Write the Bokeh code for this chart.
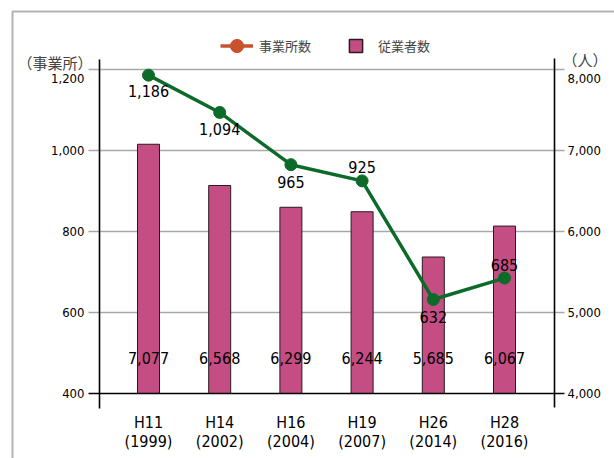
import numpy as np
from bokeh.plotting import figure
from bokeh.models import (Range1d, Legend, LegendItem, ColumnDataSource, Label, BoxAnnotation)
from bokeh.core.properties import value
from bokeh.embed import file_html
from bokeh.resources import INLINE

# ---- data ----
categories = ["H11\n(1999)", "H14\n(2002)", "H16\n(2004)", "H19\n(2007)", "H26\n(2014)", "H28\n(2016)"]
establishments = [1186, 1094, 965, 925, 632, 685]      # 事業所数 (left axis)
employees = [7077, 6568, 6299, 6244, 5685, 6067]        # 従業者数 (right axis)
left_ticks = [400, 600, 800, 1000, 1200]
right_ticks = [4000, 5000, 6000, 7000, 8000]
left_tick_labels = ["400", "600", "800", "1,000", "1,200"]
right_tick_labels = ["4,000", "5,000", "6,000", "7,000", "8,000"]

# ---- layout (px) ----
est_label_dy = [16, 17, 17, -14, 17, -13]
tick_label_dy = [0, 0, 0, 0, 9]

NUM_FONT = "DejaVu Sans Condensed, Roboto Condensed, Liberation Sans Narrow, Roboto"
JP_FONT = "Noto Sans CJK JP"

xs = list(range(len(categories)))

W, H = 614, 458
X0, STEP = 148.0, 71.2          # px of first category centre, px per category
Y400, PXU = 393.0, 0.405        # px of 400 (left axis), px per left-axis unit
RATIO = 1000 / 200.0            # right-axis units per left-axis unit


def dx(px):
    return (px - X0) / STEP


def dy(py):
    return 400 + (Y400 - py) / PXU


p = figure(width=W, height=H, output_backend="svg", toolbar_location=None,
           x_range=Range1d(dx(0), dx(W)), y_range=Range1d(dy(H), dy(0)),
           x_axis_type=None, y_axis_type=None,
           min_border_left=0, min_border_right=0, min_border_top=0, min_border_bottom=0)
p.outline_line_color = None
p.background_fill_color = "white"
p.border_fill_color = "white"
p.grid.visible = False
p.extra_y_ranges = {"emp": Range1d(4000 + (dy(H) - 400) * RATIO, 4000 + (dy(0) - 400) * RATIO)}

GX0, GX1 = dx(88), dx(564)     # grid extent
AXL, AXR = dx(99), dx(554)     # vertical axis lines

# grid lines (left-axis ticks)
grid_ticks = left_ticks[1:]
p.segment(x0=[GX0] * len(grid_ticks), x1=[GX1] * len(grid_ticks), y0=grid_ticks, y1=grid_ticks,
          line_color="#a8a8a8", line_width=1.5)

# bars
bsrc = ColumnDataSource(dict(x=xs, top=employees, lab=[f"{v:,}" for v in employees]))
p.vbar(x="x", top="top", bottom=right_ticks[0], width=22 / STEP, source=bsrc, y_range_name="emp",
       fill_color="#c44e84", line_color="#2a1a20", line_width=1)

# axis lines
p.segment(x0=[AXL, AXR], x1=[AXL, AXR], y0=[dy(408), dy(407)], y1=[dy(59), dy(58)],
          line_color="black", line_width=1.6)
p.segment(x0=[GX0], x1=[GX1], y0=[left_ticks[0]], y1=[left_ticks[0]],
          line_color="black", line_width=1.6)

# bar value labels
p.text(x="x", y=right_ticks[0], text="lab", source=bsrc, y_range_name="emp", y_offset=-36,
       text_align="center", text_baseline="middle", text_font=value(NUM_FONT),
       text_font_size="16px", text_color="black")

# line
lsrc = ColumnDataSource(dict(x=xs, y=establishments, lab=[f"{v:,}" for v in establishments],
                             dy=est_label_dy))
p.line(x="x", y="y", source=lsrc, line_color="#0d6b2a", line_width=3.5)
p.scatter(x="x", y="y", source=lsrc, size=12, fill_color="#0d6b2a", line_color="#0d6b2a")
p.text(x="x", y="y", text="lab", source=lsrc, y_offset="dy",
       text_align="center", text_baseline="middle", text_font=value(NUM_FONT),
       text_font_size="16px", text_color="black")

# tick labels
ltsrc = ColumnDataSource(dict(y=left_ticks, t=left_tick_labels, o=tick_label_dy))
p.text(x=dx(84), y="y", text="t", y_offset="o", source=ltsrc, text_align="right",
       text_baseline="middle", text_font=value(NUM_FONT), text_font_size="13px", text_color="black")
rtsrc = ColumnDataSource(dict(y=right_ticks, t=right_tick_labels, o=tick_label_dy))
p.text(x=dx(567), y="y", text="t", y_offset="o", source=rtsrc, y_range_name="emp",
       text_align="left", text_baseline="middle", text_font=value(NUM_FONT),
       text_font_size="13px", text_color="black")

# category labels
csrc = ColumnDataSource(dict(x=xs, t=categories))
p.text(x="x", y=left_ticks[0], text="t", source=csrc, y_offset=38.5,
       text_align="center", text_baseline="middle", text_font=value(NUM_FONT),
       text_font_size="16px", text_line_height=1.0, text_color="black")

# legend (legend-only renderers: NaN data so nothing is drawn in the plot)
nan_src = ColumnDataSource(dict(x=np.array([np.nan]), y=np.array([np.nan])))
lg_line = p.line(x="x", y="y", source=nan_src, line_color="#c9522e", line_width=3.5)
lg_pt = p.scatter(x="x", y="y", source=nan_src, fill_color="#c9522e", line_color="#c9522e")
lg_sq = p.scatter(x="x", y="y", source=nan_src, marker="square",
                  fill_color="#c44e84", line_color="#2a1a20", line_width=1.5)
legend = Legend(items=[LegendItem(label="事業所数", renderers=[lg_line, lg_pt]),
                       LegendItem(label="従業者数", renderers=[lg_sq])],
                orientation="horizontal", location=(220, H - 61.5),
                glyph_width=33, glyph_height=33, label_standoff=6, spacing=28,
                label_text_font=JP_FONT, label_text_font_size="13px",
                border_line_color=None, background_fill_alpha=0, padding=0, margin=0)
p.add_layout(legend, "center")

# axis unit titles
p.add_layout(Label(x=17, y=H - 62, x_units="screen", y_units="screen", text="（事業所）",
                   text_font=JP_FONT, text_font_size="15px", text_baseline="middle",
                   text_align="left"))
p.add_layout(Label(x=562, y=H - 59, x_units="screen", y_units="screen", text="（人）",
                   text_font=JP_FONT, text_font_size="15px", text_baseline="middle",
                   text_align="left"))

# outer frame (top/left edges visible)
p.add_layout(BoxAnnotation(left=12, right=W + 50, top=H - 11, bottom=-200,
                           left_units="screen", right_units="screen",
                           top_units="screen", bottom_units="screen",
                           fill_alpha=0, line_color="black", line_width=2))

open("out.html", "w").write(file_html(p, INLINE))
